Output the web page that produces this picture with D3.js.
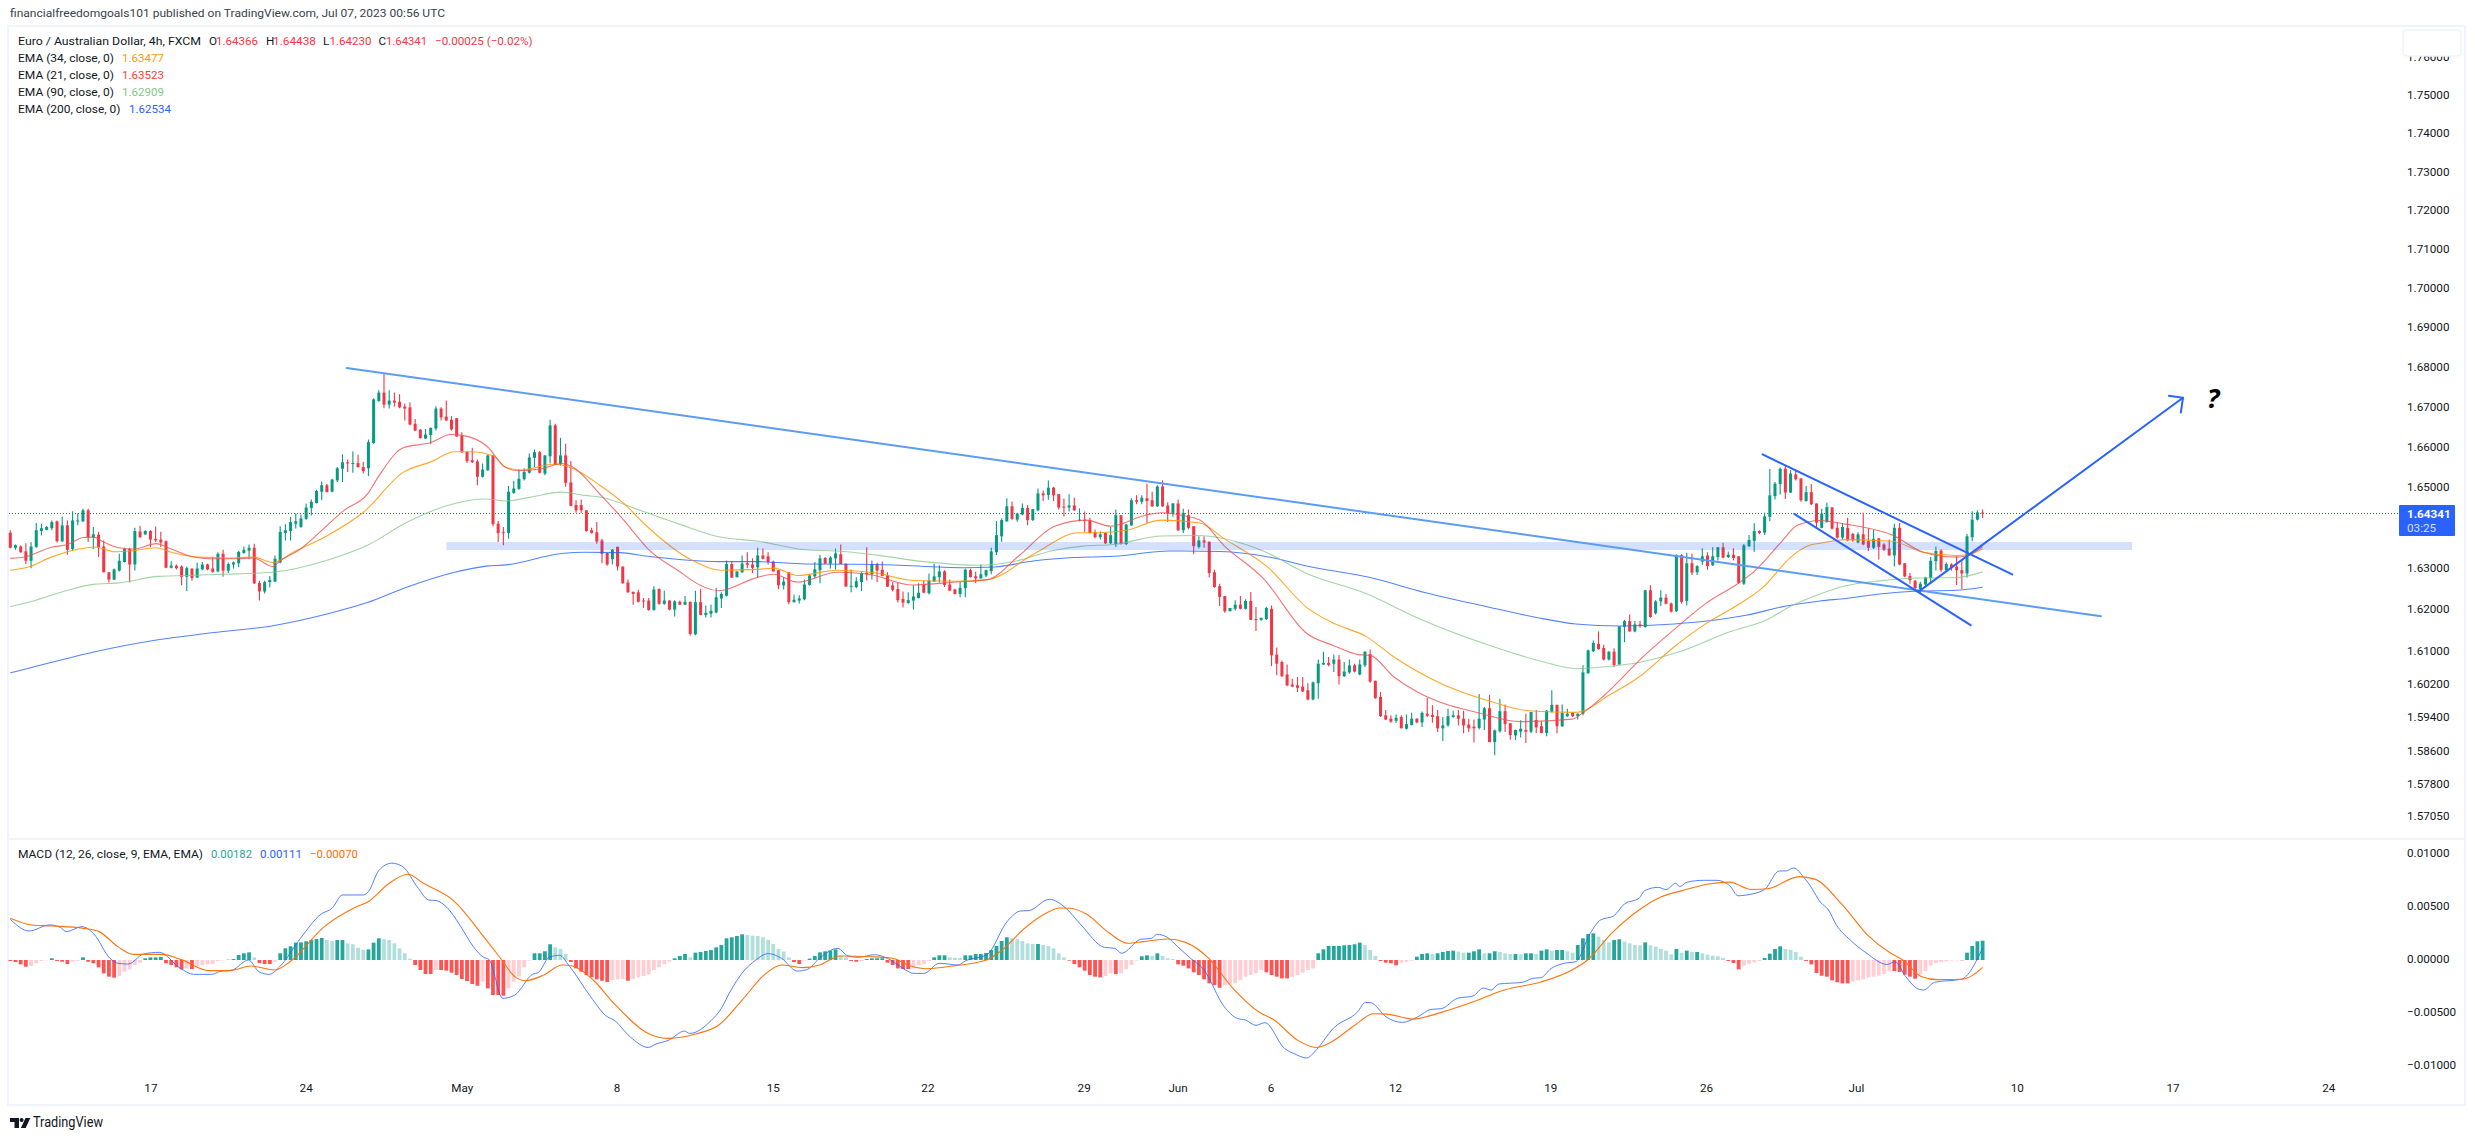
<!DOCTYPE html>
<html><head><meta charset="utf-8"><style>
html,body{margin:0;padding:0;background:#fff}
svg{display:block}
text{font-family:Roboto,sans-serif;fill:#131722}
</style><script src="https://cdn.jsdelivr.net/npm/d3@7"></script></head><body><svg id="c" width="2475" height="1141"></svg>
<script>
const opens=[
1.6387,1.6350,1.6353,1.6341,1.6318,1.6352,1.6391,1.6394,1.6398,1.6415,
1.6366,1.6405,1.6347,1.6415,1.6415,1.6442,1.6375,1.6382,1.6353,1.6290,
1.6272,1.6294,1.6315,1.6347,1.6309,1.6390,1.6383,1.6391,1.6372,1.6370,
1.6366,1.6301,1.6306,1.6304,1.6279,1.6299,1.6277,1.6297,1.6309,1.6299,
1.6292,1.6335,1.6294,1.6309,1.6312,1.6337,1.6343,1.6350,1.6264,1.6243,
1.6266,1.6267,1.6314,1.6386,1.6391,1.6409,1.6401,1.6421,1.6448,1.6460,
1.6488,1.6504,1.6488,1.6516,1.6545,1.6561,1.6557,1.6559,1.6549,1.6546,
1.6609,1.6714,1.6735,1.6705,1.6715,1.6712,1.6700,1.6698,1.6657,1.6642,
1.6620,1.6629,1.6645,1.6695,1.6675,1.6667,1.6671,1.6627,1.6587,1.6566,
1.6563,1.6525,1.6541,1.6578,1.6409,1.6388,1.6386,1.6485,1.6495,1.6519,
1.6535,1.6572,1.6586,1.6533,1.6576,1.6653,1.6556,1.6578,1.6511,1.6455,
1.6455,1.6442,1.6393,1.6388,1.6368,1.6337,1.6322,1.6352,1.6304,1.6265,
1.6242,1.6241,1.6221,1.6221,1.6198,1.6249,1.6213,1.6221,1.6199,1.6218,
1.6211,1.6218,1.6139,1.6217,1.6186,1.6189,1.6192,1.6226,1.6233,1.6310,
1.6278,1.6290,1.6312,1.6309,1.6302,1.6331,1.6329,1.6316,1.6295,1.6258,
1.6290,1.6217,1.6221,1.6224,1.6259,1.6280,1.6295,1.6325,1.6311,1.6324,
1.6334,1.6311,1.6255,1.6254,1.6266,1.6288,1.6285,1.6310,1.6296,1.6283,
1.6258,1.6249,1.6225,1.6215,1.6221,1.6227,1.6260,1.6239,1.6268,1.6278,
1.6292,1.6260,1.6248,1.6237,1.6251,1.6295,1.6280,1.6275,1.6282,1.6293,
1.6339,1.6378,1.6415,1.6452,1.6419,1.6432,1.6448,1.6418,1.6442,1.6484,
1.6480,1.6498,1.6482,1.6451,1.6449,1.6454,1.6417,1.6419,1.6418,1.6388,
1.6376,1.6386,1.6361,1.6359,1.6430,1.6359,1.6405,1.6467,1.6463,1.6472,
1.6467,1.6452,1.6501,1.6454,1.6434,1.6459,1.6393,1.6430,1.6403,1.6352,
1.6368,1.6365,1.6290,1.6256,1.6232,1.6195,1.6201,1.6211,1.6201,1.6220,
1.6176,1.6174,1.6176,1.6201,1.6090,1.6072,1.6042,1.6018,1.6016,1.6013,
1.6004,1.5982,1.6021,1.6066,1.6070,1.6068,1.6078,1.6038,1.6047,1.6064,
1.6042,1.6064,1.6091,1.6027,1.5988,1.5944,1.5936,1.5931,1.5940,1.5912,
1.5921,1.5936,1.5927,1.5948,1.5945,1.5942,1.5913,1.5920,1.5940,1.5944,
1.5936,1.5922,1.5917,1.5914,1.5934,1.5961,1.5880,1.5906,1.5954,1.5925,
1.5896,1.5905,1.5909,1.5905,1.5933,1.5918,1.5902,1.5953,1.5969,1.5918,
1.5942,1.5950,1.5942,1.5948,1.6045,1.6098,1.6116,1.6106,1.6078,1.6097,
1.6066,1.6157,1.6171,1.6146,1.6163,1.6157,1.6246,1.6190,1.6219,1.6228,
1.6214,1.6195,1.6332,1.6220,1.6312,1.6290,1.6316,1.6331,1.6307,1.6327,
1.6351,1.6327,1.6333,1.6329,1.6262,1.6354,1.6367,1.6391,1.6387,1.6426,
1.6477,1.6507,1.6545,1.6486,1.6531,1.6521,1.6465,1.6487,1.6459,1.6399,
1.6413,1.6449,1.6399,1.6375,1.6399,1.6384,1.6363,1.6383,1.6366,1.6350,
1.6373,1.6358,1.6348,1.6331,1.6399,1.6312,1.6281,1.6269,1.6249,1.6260,
1.6276,1.6317,1.6343,1.6295,1.6309,1.6304,1.6295,1.6287,1.6376,1.6419,
1.64366];
const highs=[
1.6393,1.6358,1.6356,1.6361,1.6364,1.6411,1.6409,1.6404,1.6417,1.6417,
1.6427,1.6417,1.6440,1.6434,1.6446,1.6446,1.6401,1.6389,1.6368,1.6290,
1.6299,1.6335,1.6350,1.6350,1.6399,1.6404,1.6393,1.6393,1.6402,1.6389,
1.6368,1.6317,1.6309,1.6307,1.6304,1.6299,1.6314,1.6315,1.6311,1.6328,
1.6339,1.6345,1.6314,1.6316,1.6342,1.6353,1.6358,1.6360,1.6269,1.6269,
1.6281,1.6331,1.6403,1.6408,1.6426,1.6434,1.6432,1.6459,1.6469,1.6493,
1.6513,1.6507,1.6520,1.6549,1.6581,1.6568,1.6588,1.6580,1.6562,1.6618,
1.6721,1.6741,1.6783,1.6741,1.6735,1.6731,1.6708,1.6710,1.6669,1.6644,
1.6644,1.6647,1.6701,1.6698,1.6715,1.6676,1.6671,1.6636,1.6587,1.6597,
1.6568,1.6558,1.6580,1.6578,1.6416,1.6401,1.6502,1.6515,1.6543,1.6546,
1.6583,1.6593,1.6589,1.6579,1.6667,1.6657,1.6622,1.6607,1.6564,1.6467,
1.6469,1.6442,1.6399,1.6413,1.6372,1.6337,1.6347,1.6353,1.6304,1.6272,
1.6243,1.6247,1.6227,1.6227,1.6256,1.6251,1.6245,1.6222,1.6222,1.6221,
1.6232,1.6218,1.6245,1.6250,1.6209,1.6211,1.6252,1.6241,1.6319,1.6316,
1.6292,1.6331,1.6339,1.6324,1.6350,1.6348,1.6339,1.6318,1.6295,1.6278,
1.6290,1.6236,1.6234,1.6272,1.6286,1.6315,1.6333,1.6327,1.6329,1.6348,
1.6358,1.6311,1.6297,1.6278,1.6290,1.6351,1.6319,1.6313,1.6316,1.6290,
1.6266,1.6264,1.6243,1.6241,1.6258,1.6263,1.6269,1.6287,1.6311,1.6307,
1.6295,1.6272,1.6250,1.6266,1.6299,1.6299,1.6291,1.6309,1.6296,1.6350,
1.6416,1.6422,1.6472,1.6464,1.6436,1.6459,1.6455,1.6445,1.6496,1.6491,
1.6516,1.6500,1.6482,1.6471,1.6482,1.6473,1.6447,1.6439,1.6424,1.6395,
1.6390,1.6388,1.6401,1.6444,1.6430,1.6409,1.6472,1.6479,1.6479,1.6508,
1.6488,1.6504,1.6516,1.6462,1.6460,1.6469,1.6446,1.6444,1.6403,1.6378,
1.6378,1.6365,1.6296,1.6262,1.6232,1.6203,1.6222,1.6232,1.6224,1.6242,
1.6205,1.6179,1.6206,1.6209,1.6107,1.6076,1.6066,1.6032,1.6036,1.6036,
1.6021,1.6025,1.6078,1.6097,1.6084,1.6090,1.6089,1.6072,1.6078,1.6068,
1.6078,1.6098,1.6102,1.6027,1.6000,1.5957,1.5944,1.5946,1.5944,1.5946,
1.5950,1.5937,1.5953,1.5986,1.5968,1.5957,1.5940,1.5960,1.5955,1.5957,
1.5955,1.5936,1.5934,1.5995,1.5964,1.5993,1.5910,1.5984,1.5970,1.5925,
1.5910,1.5932,1.5948,1.5952,1.5957,1.5930,1.5957,1.6004,1.5970,1.5970,
1.5960,1.5952,1.5948,1.6064,1.6102,1.6124,1.6146,1.6114,1.6098,1.6105,
1.6159,1.6174,1.6187,1.6171,1.6171,1.6247,1.6258,1.6222,1.6246,1.6237,
1.6216,1.6334,1.6334,1.6338,1.6335,1.6307,1.6349,1.6339,1.6351,1.6352,
1.6362,1.6341,1.6349,1.6329,1.6359,1.6381,1.6410,1.6393,1.6436,1.6544,
1.6512,1.6548,1.6553,1.6541,1.6543,1.6521,1.6502,1.6507,1.6459,1.6446,
1.6461,1.6450,1.6413,1.6411,1.6424,1.6386,1.6388,1.6436,1.6397,1.6394,
1.6374,1.6361,1.6370,1.6409,1.6411,1.6312,1.6288,1.6271,1.6267,1.6279,
1.6327,1.6353,1.6346,1.6314,1.6312,1.6331,1.6318,1.6384,1.6440,1.6442,
1.64438];
const lows=[
1.6348,1.6345,1.6338,1.6310,1.6300,1.6350,1.6380,1.6393,1.6393,1.6363,
1.6364,1.6333,1.6342,1.6405,1.6413,1.6364,1.6347,1.6327,1.6290,1.6265,
1.6271,1.6292,1.6314,1.6265,1.6294,1.6374,1.6381,1.6352,1.6364,1.6352,
1.6300,1.6299,1.6297,1.6258,1.6244,1.6269,1.6276,1.6295,1.6295,1.6289,
1.6290,1.6279,1.6288,1.6299,1.6302,1.6335,1.6322,1.6261,1.6221,1.6238,
1.6253,1.6267,1.6312,1.6368,1.6368,1.6397,1.6399,1.6419,1.6429,1.6459,
1.6467,1.6487,1.6487,1.6512,1.6512,1.6537,1.6535,1.6548,1.6533,1.6527,
1.6607,1.6712,1.6696,1.6695,1.6700,1.6696,1.6665,1.6653,1.6639,1.6620,
1.6619,1.6606,1.6640,1.6665,1.6665,1.6640,1.6625,1.6584,1.6559,1.6559,
1.6504,1.6523,1.6540,1.6403,1.6364,1.6356,1.6372,1.6483,1.6493,1.6516,
1.6533,1.6549,1.6533,1.6529,1.6558,1.6554,1.6553,1.6500,1.6452,1.6436,
1.6436,1.6389,1.6385,1.6360,1.6312,1.6306,1.6309,1.6294,1.6262,1.6240,
1.6211,1.6216,1.6203,1.6196,1.6196,1.6211,1.6211,1.6197,1.6182,1.6210,
1.6210,1.6136,1.6137,1.6185,1.6180,1.6180,1.6190,1.6203,1.6231,1.6276,
1.6277,1.6288,1.6300,1.6288,1.6276,1.6321,1.6309,1.6291,1.6249,1.6248,
1.6212,1.6216,1.6214,1.6222,1.6257,1.6276,1.6263,1.6310,1.6299,1.6297,
1.6310,1.6255,1.6241,1.6251,1.6244,1.6270,1.6272,1.6266,1.6280,1.6254,
1.6243,1.6216,1.6204,1.6213,1.6199,1.6226,1.6239,1.6236,1.6266,1.6265,
1.6254,1.6245,1.6236,1.6229,1.6229,1.6277,1.6263,1.6274,1.6278,1.6285,
1.6332,1.6365,1.6414,1.6419,1.6414,1.6430,1.6405,1.6416,1.6440,1.6465,
1.6468,1.6465,1.6444,1.6427,1.6439,1.6441,1.6415,1.6389,1.6385,1.6373,
1.6370,1.6359,1.6359,1.6352,1.6358,1.6357,1.6404,1.6457,1.6457,1.6411,
1.6450,1.6450,1.6450,1.6413,1.6426,1.6391,1.6386,1.6395,1.6334,1.6348,
1.6350,1.6277,1.6252,1.6208,1.6191,1.6195,1.6197,1.6199,1.6199,1.6174,
1.6147,1.6172,1.6174,1.6062,1.6040,1.6036,1.6014,1.6012,1.6000,1.6000,
1.5980,1.5980,1.5984,1.6065,1.6062,1.6048,1.6018,1.6036,1.6044,1.6047,
1.6040,1.6060,1.6022,1.5984,1.5940,1.5933,1.5926,1.5926,1.5913,1.5910,
1.5920,1.5925,1.5916,1.5940,1.5926,1.5904,1.5883,1.5917,1.5938,1.5920,
1.5901,1.5904,1.5879,1.5910,1.5909,1.5880,1.5849,1.5903,1.5904,1.5886,
1.5885,1.5891,1.5878,1.5901,1.5901,1.5901,1.5894,1.5951,1.5901,1.5916,
1.5940,1.5940,1.5934,1.5944,1.6044,1.6096,1.6102,1.6076,1.6076,1.6060,
1.6066,1.6120,1.6145,1.6144,1.6155,1.6155,1.6179,1.6187,1.6208,1.6212,
1.6192,1.6193,1.6214,1.6209,1.6283,1.6283,1.6308,1.6296,1.6305,1.6319,
1.6324,1.6325,1.6319,1.6262,1.6259,1.6352,1.6340,1.6383,1.6381,1.6415,
1.6469,1.6481,1.6470,1.6485,1.6516,1.6463,1.6464,1.6455,1.6401,1.6398,
1.6412,1.6395,1.6372,1.6370,1.6366,1.6365,1.6361,1.6356,1.6342,1.6347,
1.6321,1.6342,1.6331,1.6304,1.6307,1.6277,1.6262,1.6249,1.6238,1.6257,
1.6262,1.6294,1.6290,1.6292,1.6294,1.6259,1.6249,1.6277,1.6366,1.6417,
1.64230];
const closes=[
1.6350,1.6356,1.6339,1.6318,1.6353,1.6393,1.6398,1.6401,1.6413,1.6366,
1.6405,1.6345,1.6417,1.6417,1.6442,1.6375,1.6383,1.6352,1.6290,1.6272,
1.6297,1.6318,1.6347,1.6309,1.6391,1.6376,1.6391,1.6370,1.6368,1.6363,
1.6301,1.6306,1.6300,1.6279,1.6300,1.6276,1.6299,1.6309,1.6297,1.6291,
1.6335,1.6294,1.6310,1.6314,1.6340,1.6345,1.6350,1.6263,1.6243,1.6266,
1.6271,1.6323,1.6389,1.6393,1.6413,1.6415,1.6422,1.6449,1.6463,1.6490,
1.6504,1.6487,1.6518,1.6546,1.6561,1.6558,1.6559,1.6549,1.6539,1.6611,
1.6718,1.6735,1.6705,1.6715,1.6710,1.6698,1.6695,1.6655,1.6640,1.6621,
1.6630,1.6647,1.6695,1.6673,1.6665,1.6643,1.6625,1.6587,1.6564,1.6561,
1.6525,1.6543,1.6578,1.6408,1.6386,1.6386,1.6488,1.6496,1.6520,1.6537,
1.6573,1.6586,1.6535,1.6578,1.6653,1.6556,1.6578,1.6510,1.6453,1.6442,
1.6442,1.6391,1.6386,1.6365,1.6335,1.6309,1.6345,1.6304,1.6263,1.6241,
1.6237,1.6218,1.6219,1.6198,1.6248,1.6213,1.6221,1.6199,1.6219,1.6211,
1.6218,1.6140,1.6217,1.6186,1.6191,1.6196,1.6229,1.6237,1.6310,1.6277,
1.6292,1.6311,1.6308,1.6301,1.6331,1.6323,1.6315,1.6292,1.6258,1.6267,
1.6217,1.6223,1.6226,1.6260,1.6282,1.6297,1.6324,1.6311,1.6326,1.6336,
1.6310,1.6255,1.6257,1.6268,1.6288,1.6285,1.6310,1.6294,1.6281,1.6255,
1.6247,1.6222,1.6216,1.6222,1.6231,1.6240,1.6240,1.6270,1.6280,1.6292,
1.6259,1.6245,1.6237,1.6252,1.6296,1.6278,1.6275,1.6285,1.6295,1.6341,
1.6381,1.6418,1.6452,1.6421,1.6434,1.6448,1.6418,1.6445,1.6484,1.6479,
1.6498,1.6479,1.6449,1.6449,1.6454,1.6442,1.6419,1.6416,1.6386,1.6376,
1.6383,1.6361,1.6381,1.6430,1.6359,1.6407,1.6467,1.6463,1.6473,1.6465,
1.6452,1.6501,1.6452,1.6434,1.6459,1.6393,1.6436,1.6399,1.6354,1.6368,
1.6363,1.6288,1.6254,1.6230,1.6195,1.6203,1.6211,1.6201,1.6220,1.6174,
1.6174,1.6179,1.6203,1.6088,1.6068,1.6038,1.6016,1.6013,1.6010,1.6001,
1.5982,1.6023,1.6068,1.6070,1.6065,1.6078,1.6038,1.6049,1.6064,1.6049,
1.6066,1.6097,1.6025,1.5985,1.5942,1.5934,1.5929,1.5938,1.5913,1.5923,
1.5936,1.5927,1.5950,1.5943,1.5940,1.5913,1.5920,1.5942,1.5944,1.5936,
1.5920,1.5913,1.5913,1.5936,1.5961,1.5880,1.5908,1.5954,1.5923,1.5897,
1.5909,1.5912,1.5905,1.5952,1.5915,1.5902,1.5955,1.5969,1.5918,1.5950,
1.5948,1.5942,1.5948,1.6047,1.6100,1.6118,1.6103,1.6078,1.6097,1.6065,
1.6158,1.6171,1.6146,1.6163,1.6159,1.6246,1.6181,1.6219,1.6228,1.6213,
1.6194,1.6332,1.6218,1.6312,1.6289,1.6305,1.6329,1.6305,1.6329,1.6351,
1.6326,1.6333,1.6325,1.6264,1.6356,1.6369,1.6391,1.6386,1.6427,1.6479,
1.6508,1.6545,1.6486,1.6533,1.6519,1.6467,1.6487,1.6457,1.6412,1.6434,
1.6450,1.6397,1.6375,1.6401,1.6368,1.6368,1.6383,1.6358,1.6350,1.6372,
1.6352,1.6345,1.6331,1.6399,1.6309,1.6280,1.6271,1.6251,1.6262,1.6277,
1.6318,1.6342,1.6296,1.6310,1.6300,1.6295,1.6287,1.6378,1.6419,1.6437,
1.64341];
const ema21Bars=[0,3,7.9,11,14.1,16.1,18,20.9,23.9,28.1,30.1,33.8,38.4,43.7,46.8,50.6,52,55.9,59.7,64.3,68.8,71.1,75.7,81,84.8,87,92,95.1,97.8,102.4,106.2,108.5,113.6,118.2,122.8,129.6,131.1,136.5,144.1,147.1,151.7,159.3,165.4,173.8,182.2,188.3,194.4,201.2,207.3,211.9,218.7,221.8,225.6,229.2,233.8,241.4,249.8,255.1,259.7,262,266.6,271.1,276.5,282.6,291,300.9,303.1,308.4,314.5,320.6,326.7,332.8,335.9,341.2,344.3,348.7,353.6,362.6,368.6,374.9,377.1,380];
const ema21=[1.6324,1.6328,1.6351,1.6358,1.6375,1.6376,1.6364,1.6350,1.6347,1.6360,1.6352,1.6333,1.6323,1.6323,1.6325,1.6304,1.6318,1.6347,1.6389,1.6442,1.6482,1.6529,1.6597,1.6610,1.6630,1.6628,1.6599,1.6551,1.6540,1.6545,1.6558,1.6548,1.6482,1.6418,1.6348,1.6286,1.6272,1.6245,1.6278,1.6285,1.6266,1.6290,1.6285,1.6259,1.6266,1.6272,1.6331,1.6403,1.6418,1.6403,1.6430,1.6436,1.6430,1.6418,1.6356,1.6275,1.6141,1.6111,1.6090,1.6088,1.6036,1.6000,1.5971,1.5951,1.5929,1.5935,1.5951,1.6007,1.6084,1.6151,1.6214,1.6262,1.6291,1.6364,1.6405,1.6417,1.6408,1.6381,1.6339,1.6327,1.6331,1.63523];
const ema34Bars=[0,3.3,7.9,13.2,16.3,20.1,23.1,28.1,31.5,36.1,42.2,46.8,50.6,55.1,60.5,68.1,75.7,81,85.6,88.6,93.2,95.5,98.5,104.6,108.5,113.6,118.2,122.8,131.1,137.2,144.1,147.1,151.7,159.3,166.9,173.8,182.2,188.3,197.4,205.8,209.6,215,221.8,229.2,233.8,242.2,250,255.1,261.2,266.6,275.7,284.8,292.5,301.6,308.4,313.8,320.6,326.7,332.8,337.4,343.5,346.6,348.7,353.6,362.6,368.6,374.9,377.1,380];
const ema34=[1.6295,1.6302,1.6327,1.6347,1.6352,1.6340,1.6342,1.6350,1.6337,1.6327,1.6325,1.6327,1.6314,1.6343,1.6376,1.6438,1.6536,1.6562,1.6587,1.6587,1.6576,1.6548,1.6542,1.6556,1.6545,1.6504,1.6459,1.6401,1.6321,1.6295,1.6297,1.6300,1.6282,1.6295,1.6288,1.6270,1.6268,1.6272,1.6336,1.6387,1.6387,1.6393,1.6418,1.6411,1.6373,1.6303,1.6202,1.6165,1.6134,1.6084,1.6020,1.5979,1.5955,1.5951,1.5995,1.6036,1.6109,1.6165,1.6210,1.6250,1.6332,1.6356,1.6361,1.6370,1.6366,1.6339,1.6331,1.6333,1.63477];
const ema90Bars=[0,3.3,10.2,16.3,20.9,28.5,36.1,43.7,50.6,61.2,68.8,76.5,85.6,91.7,95.5,100,106.2,110.7,113.6,121.3,128.9,136.5,144.1,153.2,159.3,166.9,176,186.7,192.8,201.2,206.6,212.7,221.8,228.6,241.4,249.8,262,270.4,284.8,295.5,301.6,308.4,313.8,321.4,331.3,338.2,343.5,348.7,353.6,360.1,367.6,374.9,380];
const ema90=[1.6206,1.6216,1.6243,1.6261,1.6264,1.6280,1.6283,1.6286,1.6290,1.6320,1.6356,1.6413,1.6459,1.6470,1.6465,1.6474,1.6487,1.6479,1.6475,1.6442,1.6408,1.6377,1.6366,1.6345,1.6342,1.6332,1.6316,1.6307,1.6315,1.6344,1.6354,1.6358,1.6379,1.6380,1.6342,1.6287,1.6234,1.6183,1.6113,1.6072,1.6056,1.6062,1.6071,1.6096,1.6145,1.6173,1.6210,1.6237,1.6257,1.6269,1.6276,1.6277,1.62909];
const ema200Bars=[0,4.1,16.3,28.5,38.4,50.6,61.2,68.8,76.5,85.6,91.7,95.5,106.2,110.7,117.4,122.8,136.5,144.1,153.2,166.9,183.7,189.7,197.4,204.9,212.7,223.3,233.1,243,249.8,262,272.7,284.1,294,301.6,310,320.6,334.4,341.9,348.7,353.7,360.1,367.6,374.9,380];
const ema200=[1.6046,1.6059,1.6097,1.6126,1.6142,1.6160,1.6189,1.6216,1.6254,1.6290,1.6305,1.6308,1.6336,1.6339,1.6338,1.6329,1.6316,1.6316,1.6310,1.6309,1.6301,1.6303,1.6318,1.6326,1.6329,1.6342,1.6341,1.6326,1.6305,1.6277,1.6240,1.6207,1.6180,1.6164,1.6159,1.6164,1.6185,1.6207,1.6220,1.6226,1.6237,1.6244,1.6246,1.62534];
const histogram=[
-.00009,-.00019,-.00041,-.00063,-.00057,-.00031,-.00009,-.00003,.00016,-.00009,
-.00016,-.00038,-.00016,-.00009,.00025,-.00016,-.00031,-.00069,-.00126,-.00157,
-.00166,-.00151,-.0011,-.00088,-.00047,-.00025,.00016,.00025,.00025,.00028,
-.00031,-.00047,-.00069,-.00088,-.00079,-.00085,-.00057,-.00047,-.00041,-.00038,
-.00009,-.00003,.00003,.00009,.00047,.00063,.00072,.00025,-.00028,-.00038,
-.00038,-.00016,.00063,.0011,.00129,.00163,.00166,.00176,.00188,.00198,
.00207,.00188,.00179,.00188,.00188,.00157,.00148,.00116,.00094,.001,
.00163,.00204,.00195,.00188,.00157,.0011,.00063,.00013,-.00047,-.00094,
-.00132,-.00132,-.00094,-.00094,-.001,-.00119,-.00141,-.00179,-.00198,-.00226,
-.00242,-.00204,-.00267,-.0033,-.0033,-.00336,-.00267,-.00204,-.00157,-.00069,
-.00006,.00063,.00063,.00082,.00148,.00119,.00104,.00057,-.00019,-.00079,
-.0011,-.00141,-.00163,-.00182,-.00195,-.00207,-.00188,-.00182,-.00179,-.00195,
-.00179,-.00163,-.00151,-.00135,-.00094,-.00069,-.00038,-.00016,.00016,.00038,
.00057,.00025,.00069,.00075,.00085,.00094,.00119,.00141,.00204,.00214,
.00226,.00242,.00236,.00229,.00226,.00214,.00188,.00151,.00104,.00079,
.00025,-.00019,-.00038,-.00006,.00013,.00038,.00072,.00082,.00088,.001,
.00038,.00025,-.00009,-.00016,-.00009,.00009,.00016,.00016,.00016,-.00025,
-.00047,-.00079,-.00085,-.00085,-.00079,-.00047,-.00038,-.00009,.00025,.00044,
.00044,.00025,.00022,.00019,.00044,.00044,.00057,.00057,.00066,.00094,
.00132,.00179,.00214,.00204,.00195,.00179,.00157,.00151,.00151,.00141,
.00132,.0011,.00063,.00025,-.00006,-.00038,-.00069,-.001,-.00141,-.00157,
-.00163,-.00151,-.00126,-.00132,-.00126,-.00088,-.00047,-.00006,.00035,.00044,
.00038,.00063,.00038,.00016,.00009,-.00041,-.00053,-.00079,-.00116,-.00141,
-.00182,-.0022,-.00236,-.00261,-.00239,-.00232,-.0022,-.00188,-.00157,-.00141,
-.00126,-.00094,-.00116,-.00141,-.00157,-.00173,-.00173,-.00157,-.00141,-.00119,
-.00094,-.00079,.00063,.001,.00132,.00132,.00132,.00138,.00141,.00148,
.00163,.00141,.00094,.00038,-.00009,-.00025,-.00031,-.0005,-.00025,-.00016,
-.00006,.00031,.00057,.00063,.00057,.00063,.00075,.00085,.00088,.00079,
.00069,.00069,.00082,.001,.00063,.00063,.00082,.00075,.00063,.00057,
.00057,.00053,.00063,.00063,.00057,.00088,.001,.00088,.00094,.00094,
.00082,.00069,.00141,.00204,.00245,.00251,.0022,.00188,.00166,.00188,
.00195,.00173,.00157,.00141,.00138,.00166,.00138,.00126,.00104,.00088,
.00053,.00104,.00069,.00088,.00075,.00075,.00063,.0005,.00041,.00035,
.00019,-.00009,-.00028,-.00088,-.00053,-.00035,-.00022,-.00009,.00019,.0006,
.00104,.00129,.00104,.00097,.00075,.00031,-.00009,-.00041,-.00122,-.00148,
-.00157,-.00192,-.0021,-.0022,-.0022,-.00201,-.00192,-.00182,-.00166,-.00157,
-.00148,-.00132,-.00104,-.00104,-.00113,-.00138,-.00157,-.00176,-.00138,-.00104,
-.00053,-.00028,-.00019,-.00013,-.00006,-.00003,-.00003,.00069,.00132,.00176,.00182];
const macdBars=[0,3.6,7.6,9.6,10.8,13.8,16.1,19.2,20.7,22.7,25.7,28.7,32.8,35.3,38.8,40.3,42.8,45.9,47.9,49.9,51.9,55.9,59.9,62,64,68,69,71,73.5,75.6,78.6,80.6,82.1,84.1,86.6,89.2,91.2,92.2,94.9,97.2,100.7,101.7,103.8,105.8,107.8,111.8,115,116.3,119.4,122.9,124.4,126.9,129.9,130.9,135,137,138.5,141.5,143.5,146,148.6,151.6,153.6,155.9,159.4,161.4,163.4,166.5,169,172.5,174,176,179,182.6,184.1,188.1,192.2,194.7,196.2,200.2,203.2,206.3,210.8,212.8,214.1,217.8,219.9,220.9,222.9,224.9,227.4,229.9,233.9,236.4,238,240,241.7,245.5,247.5,249.8,251,255.1,259.6,261.1,262.1,265.2,268.2,271.2,273.7,275.7,278.8,281.8,283.8,285.3,286.8,291.3,293.3,294.9,296.9,299.4,301.6,304.4,306.4,308.9,311,313.8,314.9,317.5,319,320.9,321.6,323.1,326.2,328.8,331.3,332.9,334.4,338,340.8,342.1,343.6,345.7,346.7,348.8,350.3,351.8,354.4,357.5,361.6,363.1,365.2,367.2,368.6,370.8,375.9,380];
const macdLine=[.00383,.00273,.0033,.00308,.00267,.00314,.00245,.00016,-.00031,-.00038,.00057,.00072,-.00079,-.00135,-.00135,-.0011,-.00094,0,-.0011,-.00135,-.00063,.00204,.00433,.00487,.00612,.00612,.00644,.00842,.00911,.00879,.00675,.00565,.00559,.00496,.0033,.00126,.00025,.00006,-.00361,-.0033,-.00132,-.00119,.00025,.00044,-.00063,-.00345,-.00534,-.00565,-.00722,-.00823,-.00791,-.00754,-.00669,-.00691,-.00571,-.00455,-.00314,-.00094,-.00006,.0006,.00016,-.00104,-.00088,.00016,.0011,.00038,.00025,.0005,.00016,-.00094,-.00126,-.00126,-.00031,-.00047,-.00006,.00047,.00371,.00462,.00465,.00571,.00496,.0033,.00119,.0011,.00063,.00195,.00204,.00242,.00214,.00126,.00016,-.00088,-.0044,-.0055,-.00565,-.00615,-.0059,-.00832,-.00885,-.00923,-.00879,-.00634,-.00487,-.00399,-.00402,-.0054,-.00587,-.00534,-.00465,-.00458,-.00361,-.00339,-.00264,-.00283,-.00226,-.0021,-.00173,-.00166,-.00079,-.00031,-.00016,.00251,.00377,.00414,.00528,.00581,.00653,.00684,.00663,.00722,.00691,.00733,.0075,.0075,.00698,.00604,.00611,.00663,.00838,.00838,.00866,.00768,.00705,.00541,.00471,.00332,.00192,.0007,-.00042,-.00017,-.00157,-.00262,-.00283,-.00209,-.00181,.00111];
const signalBars=[0,4.1,8.1,14.1,17.1,20.7,23.7,29.2,32.8,38.3,42.3,46.4,50.9,53.9,60.5,66.5,69,73,76.6,79.6,85.6,91.2,94.7,97.2,99.2,102.8,106.3,108.3,112.3,116.3,122.9,126.9,132,136.5,141,145.6,148.6,152.6,155.9,159.9,165.9,170,173.5,176.5,182.1,188.1,191.1,195.2,199.2,202.2,204.2,207.3,211.8,215.3,218.3,222.9,226.4,230.9,235.4,240.5,243.5,248,251.6,254,259.1,262.6,265.2,270.2,275.7,282.8,287.8,294.9,300.9,303.9,308.5,313.8,318,322.1,327.2,331.3,335.4,338.5,344.7,347.7,352.9,358,362.1,364.6,368.3,371.3,375.9,378,380];
const signalLine=[.00393,.0033,.0032,.00298,.00267,.00126,.00053,.00053,.00006,-.001,-.001,-.00057,-.00094,-.00016,.00314,.00496,.0055,.00722,.00807,.00722,.0055,.0022,0,-.00157,-.00195,-.00141,-.00047,-.00057,-.00188,-.00408,-.00691,-.00738,-.00697,-.00612,-.00377,-.00126,-.00047,-.00072,-.00047,.00038,.00031,.00016,-.00057,-.00082,-.00053,0,.00094,.00289,.0043,.0049,.00487,.00433,.00251,.00157,.00173,.00198,.00166,.00016,-.00257,-.00487,-.00565,-.00754,-.00823,-.00785,-.00612,-.00506,-.00509,-.00556,-.00493,-.00377,-.00283,-.00207,-.00094,0,.00251,.00471,.00593,.00653,.00715,.00733,.00663,.0067,.00785,.00761,.00524,.00227,.0007,0,-.00157,-.00185,-.00181,-.00147,-.0007];
const priceTicks=[1.76,1.75,1.74,1.73,1.72,1.71,1.70,1.69,1.68,1.67,1.66,1.65,1.63,1.62,1.61,1.602,1.594,1.586,1.578,1.5705];
const macdTicks=[0.01,0.005,0,-0.005,-0.01];
const dateTickBars=[27,56.9,87,116.8,146.9,176.7,206.8,224.9,242.8,266.8,296.7,326.7,355.6,386.6,416.6,446.6];
const dateTickLabels=["17","24","May","8","15","22","29","Jun","6","12","19","26","Jul","10","17","24"];
const lastPrice=1.64341;
const longTrendBars=[64.8,402.8],longTrendPrices=[1.6797,1.6183];
const channelUpperBars=[337.6,385.7],channelUpperPrices=[1.65806,1.62846];
const channelLowerBars=[343.7,377.7],channelLowerPrices=[1.64335,1.61612];
const arrowBars=[367.6,418.6],arrowPrices=[1.62421,1.6722];
const arrowHeadBars=[415.9,418.6,418.2],arrowHeadPrices=[1.6727,1.6722,1.66854];
const bandBars=[84,408.8],bandPrices=[1.63639,1.63442];

const svg=d3.select("#c");
const x=d3.scaleLinear().domain([0,380]).range([10.3,1982.6]);
const y=d3.scaleLog().domain([1.75,1.5705]).range([94.7,816]);
const my=d3.scaleLinear().domain([0.01,-0.01]).range([853.75,1066.25]);
const RED="#F23645",GRN="#089981",LINE="#f0f3fa";

// frame
svg.append("rect").attr("x",8).attr("y",26).attr("width",2457).attr("height",1079).attr("fill","none").attr("stroke",LINE).attr("stroke-width",2);
svg.append("line").attr("x1",8).attr("x2",2465).attr("y1",839).attr("y2",839).attr("stroke",LINE).attr("stroke-width",2);

// last price line
svg.append("line").attr("x1",9).attr("x2",2399).attr("y1",y(lastPrice)).attr("y2",y(lastPrice)).attr("stroke","#2962FF").attr("stroke-width",1).attr("stroke-dasharray","1 2");

// candles
const idx=d3.range(opens.length);
const col=i=>closes[i]>=opens[i]?GRN:RED;
svg.append("g").selectAll("line").data(idx).join("line")
 .attr("x1",i=>x(i)).attr("x2",i=>x(i)).attr("y1",i=>y(highs[i])).attr("y2",i=>y(lows[i])).attr("stroke",col).attr("stroke-width",1.1);
svg.append("g").selectAll("rect").data(idx).join("rect")
 .attr("x",i=>x(i)-1.5).attr("width",3)
 .attr("y",i=>Math.min(y(opens[i]),y(closes[i])))
 .attr("height",i=>Math.max(1,Math.abs(y(opens[i])-y(closes[i]))))
 .attr("fill",col);

// EMAs
const path=(bars,vals,ys,c,w,op)=>svg.append("path").attr("d",d3.line().x(i=>x(bars[i])).y(i=>ys(vals[i])).curve(d3.curveMonotoneX)(d3.range(bars.length))).attr("fill","none").attr("stroke",c).attr("stroke-width",w).attr("stroke-opacity",op||1);
path(ema200Bars,ema200,y,"#2962FF",1.05,.8);
path(ema90Bars,ema90,y,"#81C784",1.1,.75);
path(ema34Bars,ema34,y,"#FF9800",1.1,.85);
path(ema21Bars,ema21,y,"#F05050",1.1,.8);

// band
svg.append("rect").attr("x",x(bandBars[0])).attr("width",x(bandBars[1])-x(bandBars[0])).attr("y",y(bandPrices[0])).attr("height",y(bandPrices[1])-y(bandPrices[0])).attr("fill","#2962FF").attr("fill-opacity",.2);

// drawings
const poly=(bars,vals,c,w)=>svg.append("path").attr("d",d3.line().x(i=>x(bars[i])).y(i=>y(vals[i]))(d3.range(bars.length))).attr("fill","none").attr("stroke",c).attr("stroke-width",w).attr("stroke-linecap","round");
poly(longTrendBars,longTrendPrices,"#5B9CF6",2);
poly(channelUpperBars,channelUpperPrices,"#2962FF",2);
poly(channelLowerBars,channelLowerPrices,"#2962FF",2);
poly(arrowBars,arrowPrices,"#2962FF",2);
poly(arrowHeadBars,arrowHeadPrices,"#2962FF",2);
svg.append("text").attr("x",2207).attr("y",408).attr("font-size",27).attr("font-weight",700).attr("font-style","italic").style("font-family","'Open Sans',sans-serif").style("fill","#000").text("?");

// MACD
const hIdx=d3.range(histogram.length);
const hCol=i=>{const v=histogram[i],p=i?histogram[i-1]:0;return v>=0?(v>=p?"#26A69A":"#B2DFDB"):(v<=p?"#FF5252":"#FFCDD2");};
svg.append("g").selectAll("rect").data(hIdx).join("rect")
 .attr("x",i=>x(i)-1.9).attr("width",3.8)
 .attr("y",i=>Math.min(my(0),my(histogram[i])))
 .attr("height",i=>Math.abs(my(0)-my(histogram[i])))
 .attr("fill",hCol);
path(macdBars,macdLine,my,"#2962FF",1,.8);
path(signalBars,signalLine,my,"#FF6D00",1.1,.95);

// axes
const styleAxis=g=>{g.select(".domain").remove();g.selectAll("line").remove();g.selectAll("text").attr("font-size",11.7).style("fill","#131722").style("font-family","Roboto,sans-serif");g.attr("font-family",null);};
svg.append("g").attr("transform","translate(2407,0)").call(d3.axisRight(y).tickValues(priceTicks).tickFormat(d3.format(".5f")).tickSize(0).tickPadding(0)).call(styleAxis);
svg.append("g").attr("transform","translate(2407,-1.5)").call(d3.axisRight(my).tickValues(macdTicks).tickFormat(d3.format(".5f")).tickSize(0).tickPadding(0)).call(styleAxis);
const xAxisG=svg.append("g").attr("transform","translate(0,1084)").call(d3.axisBottom(x).tickValues(dateTickBars).tickFormat((d,i)=>dateTickLabels[i]).tickSize(0).tickPadding(0)).call(styleAxis);

// top-right box
svg.append("rect").attr("x",2403).attr("y",30).attr("width",58).attr("height",26).attr("rx",4).attr("fill","#fff").attr("stroke",LINE).attr("stroke-width",1.5);

// price badge
svg.append("rect").attr("x",2399).attr("y",505).attr("width",56).attr("height",31).attr("rx",1).attr("fill","#2962FF");
svg.append("text").attr("x",2407).attr("y",518).attr("font-size",11.7).attr("font-weight",700).style("fill","#fff").text(d3.format(".5f")(lastPrice));
svg.append("text").attr("x",2407).attr("y",532).attr("font-size",11.7).style("fill","#d4e0ff").text("03:25");

// text
const t=(xp,yp,s,c,len)=>{const e=svg.append("text").attr("x",xp).attr("y",yp).attr("font-size",11.7).style("fill",c||"#131722").attr("dominant-baseline","middle").text(s);if(len)e.attr("textLength",len).attr("lengthAdjust","spacingAndGlyphs");return e;};
t(10,14,"financialfreedomgoals101 published on TradingView.com, Jul 07, 2023 00:56 UTC","#3a3f4b",435);
t(18,42,"Euro / Australian Dollar, 4h, FXCM","#131722",183);
t(209,42,"O");t(216,42,"1.64366",RED,42);
t(266,42,"H");t(273,42,"1.64438",RED,43);
t(323,42,"L");t(329.5,42,"1.64230",RED,42);
t(378.6,42,"C");t(386,42,"1.64341",RED,41);
t(435,42,"−0.00025 (−0.02%)",RED,97.5);
t(18,59,"EMA (34, close, 0)","#131722",96);t(122,59,"1.63477","#FF9800",42);
t(18,76,"EMA (21, close, 0)","#131722",96);t(122,76,"1.63523","#F44336",42);
t(18,93,"EMA (90, close, 0)","#131722",96);t(122,93,"1.62909","#81C784",42);
t(18,110,"EMA (200, close, 0)","#131722",102.5);t(129,110,"1.62534","#2962FF",42);
t(18,855,"MACD (12, 26, close, 9, EMA, EMA)","#131722",185);
t(211,855,"0.00182","#26A69A",41);t(260,855,"0.00111","#2962FF",42);t(310,855,"−0.00070","#FF6D00",48);

// logo
svg.append("path").attr("d","M10 1118h9v10h-4.5v-6H10zM25.5 1118h4.8l-4.6 10h-4.8z").attr("fill","#131722");
svg.append("circle").attr("cx",21.6).attr("cy",1120).attr("r",2).attr("fill","#131722");
t(33,1123,"TradingView","#131722",70).attr("font-size",14);
</script></body></html>
